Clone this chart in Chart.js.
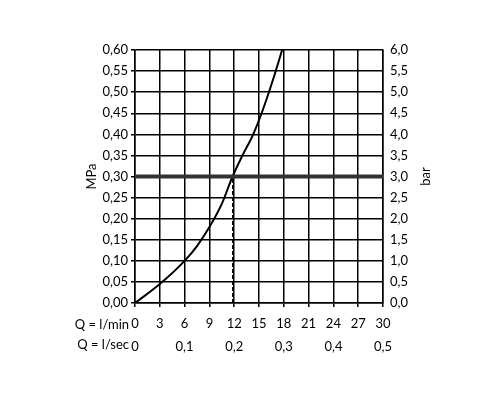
<!DOCTYPE html>
<html>
<head>
<meta charset="utf-8">
<script src="https://cdn.jsdelivr.net/npm/chart.js@4"></script>
<style>
  body { margin: 0; background: #fff; }
  #wrap { width: 500px; height: 400px; }
</style>
</head>
<body>
<div id="wrap"><canvas id="chart"></canvas></div>
<script>
// flow (l/min) vs pressure (MPa)
const flowLpm = [0, 3, 6, 7.5, 9, 10.5, 11.8, 13, 14.3, 15.5, 16.7, 17.8];
const pressureMPa = [0, 0.045, 0.10, 0.135, 0.18, 0.235, 0.30, 0.35, 0.40, 0.46, 0.53, 0.60];
const refPressure = 0.30;
const refFlow = 11.8;

const FONT = "Lato, 'DejaVu Sans', sans-serif";
const comma = (v, d) => v.toFixed(d).replace('.', ',');

const sideLabels = {
  id: 'sideLabels',
  afterDraw(chart) {
    const ctx = chart.ctx;
    const a = chart.chartArea;
    ctx.save();
    ctx.fillStyle = '#000';
    ctx.font = '13px ' + FONT;
    ctx.textAlign = 'right';
    ctx.textBaseline = 'middle';
    ctx.fillText('Q = l/min', 129, a.bottom + 22);
    ctx.fillText('Q = l/sec', 129, a.bottom + 42);
    ctx.textAlign = 'center';
    ctx.save();
    ctx.translate(92, (a.top + a.bottom) / 2);
    ctx.rotate(-Math.PI / 2);
    ctx.fillText('MPa', 0, 0);
    ctx.restore();
    ctx.save();
    ctx.translate(426, (a.top + a.bottom) / 2);
    ctx.rotate(-Math.PI / 2);
    ctx.fillText('bar', 0, 0);
    ctx.restore();
    ctx.restore();
  }
};

new Chart(document.getElementById('chart'), {
  type: 'line',
  data: {
    datasets: [
      {
        data: [{ x: 0, y: refPressure }, { x: 30, y: refPressure }],
        borderColor: '#333', borderWidth: 4, pointRadius: 0
      },
      {
        data: [{ x: refFlow, y: 0 }, { x: refFlow, y: refPressure }],
        borderColor: '#000', borderWidth: 1, borderDash: [4, 2], pointRadius: 0
      },
      {
        data: flowLpm.map((x, i) => ({ x, y: pressureMPa[i] })),
        borderColor: '#000', borderWidth: 2, pointRadius: 0,
        cubicInterpolationMode: 'monotone'
      }
    ]
  },
  options: {
    responsive: true,
    maintainAspectRatio: false,
    animation: false,
    layout: { padding: { top: 50, bottom: 41 } },
    plugins: { legend: { display: false }, tooltip: { enabled: false } },
    scales: {
      x: {
        type: 'linear', min: 0, max: 30,
        afterFit: s => { s.height = 26; },
        ticks: { stepSize: 3, color: '#000', font: { family: FONT, size: 13 }, padding: 9, maxRotation: 0 },
        grid: { color: '#000', lineWidth: 1.5, tickLength: 4 },
        border: { color: '#000', width: 1.5 }
      },
      x2: {
        type: 'linear', position: 'bottom', min: 0, max: 0.5,
        afterFit: s => { s.height = 30; },
        ticks: { stepSize: 0.1, color: '#000', font: { family: FONT, size: 13 }, padding: 10, maxRotation: 0,
          callback: v => v === 0 ? '0' : comma(v, 1) },
        grid: { display: false, drawTicks: false },
        border: { display: false }
      },
      y: {
        min: 0, max: 0.6,
        afterFit: s => { s.width = 135; },
        ticks: { stepSize: 0.05, color: '#000', font: { family: FONT, size: 13 }, padding: 3,
          callback: v => comma(v, 2) },
        grid: { color: '#000', lineWidth: 1.5, tickLength: 4 },
        border: { color: '#000', width: 1.5 }
      },
      y2: {
        position: 'right', min: 0, max: 6,
        afterFit: s => { s.width = 117; },
        ticks: { stepSize: 0.5, color: '#000', font: { family: FONT, size: 13 }, padding: 3,
          callback: v => comma(v, 1) },
        grid: { display: false, tickLength: 4 },
        border: { color: '#000', width: 1.5 }
      }
    }
  },
  plugins: [sideLabels]
});
</script>
</body>
</html>
